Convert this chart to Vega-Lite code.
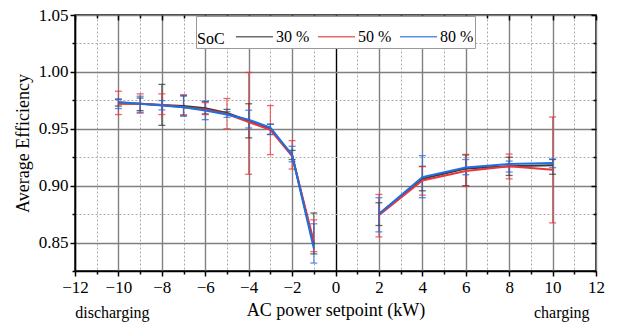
{
  "$schema": "https://vega.github.io/schema/vega-lite/v6.json",
  "width": 521,
  "height": 256,
  "autosize": "none",
  "padding": {"left": 75, "top": 15, "right": 22, "bottom": 53},
  "background": "white",
  "data": {"values": [
    {"p": -10, "soc": "30 %", "seg": "d", "eff": 0.9725, "lo": 0.970, "hi": 0.976},
    {"p": -9, "soc": "30 %", "seg": "d", "eff": 0.972, "lo": 0.966, "hi": 0.977},
    {"p": -8, "soc": "30 %", "seg": "d", "eff": 0.971, "lo": 0.953, "hi": 0.989},
    {"p": -7, "soc": "30 %", "seg": "d", "eff": 0.970, "lo": 0.962, "hi": 0.979},
    {"p": -6, "soc": "30 %", "seg": "d", "eff": 0.968, "lo": 0.963, "hi": 0.974},
    {"p": -5, "soc": "30 %", "seg": "d", "eff": 0.964, "lo": 0.963, "hi": 0.967},
    {"p": -4, "soc": "30 %", "seg": "d", "eff": 0.957, "lo": 0.942, "hi": 0.972},
    {"p": -3, "soc": "30 %", "seg": "d", "eff": 0.950, "lo": 0.945, "hi": 0.954},
    {"p": -2, "soc": "30 %", "seg": "d", "eff": 0.927, "lo": 0.923, "hi": 0.931},
    {"p": -1, "soc": "30 %", "seg": "d", "eff": 0.848, "lo": 0.840, "hi": 0.876},
    {"p": 2, "soc": "30 %", "seg": "c", "eff": 0.875, "lo": 0.865, "hi": 0.885},
    {"p": 4, "soc": "30 %", "seg": "c", "eff": 0.906, "lo": 0.8955, "hi": 0.917},
    {"p": 6, "soc": "30 %", "seg": "c", "eff": 0.915, "lo": 0.900, "hi": 0.927},
    {"p": 8, "soc": "30 %", "seg": "c", "eff": 0.917, "lo": 0.909, "hi": 0.925},
    {"p": 10, "soc": "30 %", "seg": "c", "eff": 0.918, "lo": 0.910, "hi": 0.923},
    {"p": -10, "soc": "50 %", "seg": "d", "eff": 0.972, "lo": 0.9625, "hi": 0.983},
    {"p": -9, "soc": "50 %", "seg": "d", "eff": 0.972, "lo": 0.9637, "hi": 0.9807},
    {"p": -8, "soc": "50 %", "seg": "d", "eff": 0.971, "lo": 0.9625, "hi": 0.9807},
    {"p": -7, "soc": "50 %", "seg": "d", "eff": 0.969, "lo": 0.962, "hi": 0.980},
    {"p": -6, "soc": "50 %", "seg": "d", "eff": 0.967, "lo": 0.9625, "hi": 0.973},
    {"p": -5, "soc": "50 %", "seg": "d", "eff": 0.963, "lo": 0.950, "hi": 0.9766},
    {"p": -4, "soc": "50 %", "seg": "d", "eff": 0.956, "lo": 0.910, "hi": 0.9995},
    {"p": -3, "soc": "50 %", "seg": "d", "eff": 0.949, "lo": 0.9273, "hi": 0.9704},
    {"p": -2, "soc": "50 %", "seg": "d", "eff": 0.926, "lo": 0.9146, "hi": 0.9396},
    {"p": -1, "soc": "50 %", "seg": "d", "eff": 0.851, "lo": 0.842, "hi": 0.870},
    {"p": 2, "soc": "50 %", "seg": "c", "eff": 0.874, "lo": 0.855, "hi": 0.8923},
    {"p": 4, "soc": "50 %", "seg": "c", "eff": 0.9046, "lo": 0.8917, "hi": 0.9167},
    {"p": 6, "soc": "50 %", "seg": "c", "eff": 0.9128, "lo": 0.8993, "hi": 0.9275},
    {"p": 8, "soc": "50 %", "seg": "c", "eff": 0.917, "lo": 0.906, "hi": 0.9278},
    {"p": 10, "soc": "50 %", "seg": "c", "eff": 0.914, "lo": 0.8673, "hi": 0.9604},
    {"p": -10, "soc": "80 %", "seg": "d", "eff": 0.9735, "lo": 0.9678, "hi": 0.976},
    {"p": -9, "soc": "80 %", "seg": "d", "eff": 0.972, "lo": 0.9645, "hi": 0.9786},
    {"p": -8, "soc": "80 %", "seg": "d", "eff": 0.9705, "lo": 0.9666, "hi": 0.9748},
    {"p": -7, "soc": "80 %", "seg": "d", "eff": 0.969, "lo": 0.961, "hi": 0.979},
    {"p": -6, "soc": "80 %", "seg": "d", "eff": 0.966, "lo": 0.958, "hi": 0.9742},
    {"p": -5, "soc": "80 %", "seg": "d", "eff": 0.9625, "lo": 0.960, "hi": 0.965},
    {"p": -4, "soc": "80 %", "seg": "d", "eff": 0.958, "lo": 0.9507, "hi": 0.9663},
    {"p": -3, "soc": "80 %", "seg": "d", "eff": 0.951, "lo": 0.945, "hi": 0.954},
    {"p": -2, "soc": "80 %", "seg": "d", "eff": 0.927, "lo": 0.921, "hi": 0.9346},
    {"p": -1, "soc": "80 %", "seg": "d", "eff": 0.845, "lo": 0.832, "hi": 0.8665},
    {"p": 2, "soc": "80 %", "seg": "c", "eff": 0.875, "lo": 0.8594, "hi": 0.8894},
    {"p": 4, "soc": "80 %", "seg": "c", "eff": 0.9075, "lo": 0.8894, "hi": 0.9264},
    {"p": 6, "soc": "80 %", "seg": "c", "eff": 0.916, "lo": 0.9096, "hi": 0.923},
    {"p": 8, "soc": "80 %", "seg": "c", "eff": 0.919, "lo": 0.912, "hi": 0.9216},
    {"p": 10, "soc": "80 %", "seg": "c", "eff": 0.920, "lo": 0.9158, "hi": 0.9234}
  ]},
  "config": {
    "font": "Liberation Serif, serif",
    "view": {"stroke": "black", "strokeWidth": 1.5},
    "axis": {
      "labelFont": "Liberation Serif, serif",
      "titleFont": "Liberation Serif, serif",
      "labelFontSize": 17,
      "titleFontSize": 18,
      "titleFontWeight": "normal",
      "labelColor": "black",
      "titleColor": "black",
      "domainColor": "black",
      "domainWidth": 1.5,
      "tickColor": "black",
      "tickWidth": 1.5
    },
    "legend": {
      "labelFont": "Liberation Serif, serif",
      "titleFont": "Liberation Serif, serif"
    }
  },
  "layer": [
    {
      "mark": {"type": "point", "opacity": 0},
      "encoding": {
        "x": {"field": "p", "type": "quantitative", "scale": {"domain": [-12, 12], "nice": false, "zero": false},
          "axis": {"orient": "top", "values": [-12,-11,-10,-9,-8,-7,-6,-5,-4,-3,-2,-1,0,1,2,3,4,5,6,7,8,9,10,11,12], "labels": false, "domain": false, "grid": false, "title": null,
            "tickSize": {"condition": {"test": "datum.value % 2 === 0", "value": -5}, "value": -3}}},
        "y": {"field": "eff", "type": "quantitative", "scale": {"domain": [0.825, 1.05], "nice": false, "zero": false},
          "axis": {"orient": "right", "values": [0.825,0.85,0.875,0.9,0.925,0.95,0.975,1.0,1.025,1.05], "labels": false, "domain": false, "grid": false, "title": null,
            "tickSize": {"condition": {"test": "abs(datum.value*20 - round(datum.value*20)) < 0.001", "value": -5}, "value": -3}}}
      }
    },
    {
      "mark": {"type": "point", "opacity": 0},
      "encoding": {
        "x": {"field": "p", "type": "quantitative", "scale": {"domain": [-12, 12], "nice": false, "zero": false},
          "axis": {"orient": "bottom", "values": [-10.3, 10.4], "labelExpr": "datum.value < 0 ? 'discharging' : 'charging'", "labelFont": "Liberation Serif, serif", "labelFontSize": 16, "labelPadding": 33, "ticks": false, "domain": false, "grid": false, "title": null}},
        "y": {"field": "eff", "type": "quantitative", "axis": null}
      }
    },
    {
      "mark": {"type": "rule", "strokeWidth": 1.2, "opacity": 0.75},
      "encoding": {
        "x": {"field": "p", "type": "quantitative", "axis": null},
        "y": {"field": "lo", "type": "quantitative", "axis": null},
        "y2": {"field": "hi"},
        "color": {"field": "soc", "type": "nominal"}
      }
    },
    {
      "mark": {"type": "tick", "orient": "horizontal", "size": 7, "thickness": 1.3, "opacity": 0.75},
      "encoding": {
        "x": {"field": "p", "type": "quantitative", "axis": null},
        "y": {"field": "lo", "type": "quantitative", "axis": null},
        "color": {"field": "soc", "type": "nominal"}
      }
    },
    {
      "mark": {"type": "tick", "orient": "horizontal", "size": 7, "thickness": 1.3, "opacity": 0.75},
      "encoding": {
        "x": {"field": "p", "type": "quantitative", "axis": null},
        "y": {"field": "hi", "type": "quantitative", "axis": null},
        "color": {"field": "soc", "type": "nominal"}
      }
    },
    {
      "mark": {"type": "line", "strokeWidth": 2},
      "encoding": {
        "x": {"field": "p", "type": "quantitative",
          "axis": {"orient": "bottom", "title": "AC power setpoint (kW)", "titlePadding": 6,
            "labelFont": "Liberation Serif, serif", "titleFont": "Liberation Serif, serif",
            "values": [-12,-11,-10,-9,-8,-7,-6,-5,-4,-3,-2,-1,0,1,2,3,4,5,6,7,8,9,10,11,12],
            "labelExpr": "datum.value % 2 === 0 ? format(datum.value, 'd') : ''",
            "labelPadding": 3,
            "tickSize": {"condition": {"test": "datum.value % 2 === 0", "value": 5}, "value": 3},
            "grid": true,
            "gridDash": {"condition": {"test": "datum.value % 2 === 0", "value": []}, "value": [2, 2]},
            "gridColor": {"condition": [{"test": "datum.value === 0", "value": "#000000"}, {"test": "datum.value % 2 === 0", "value": "#808080"}], "value": "#aaaaaa"},
            "gridWidth": {"condition": {"test": "datum.value % 2 === 0", "value": 1.4}, "value": 1},
            "labelFlush": false}},
        "y": {"field": "eff", "type": "quantitative",
          "axis": {"orient": "left", "title": "Average Efficiency", "titlePadding": 6,
            "labelFont": "Liberation Serif, serif", "titleFont": "Liberation Serif, serif",
            "values": [0.825,0.85,0.875,0.9,0.925,0.95,0.975,1.0,1.025,1.05],
            "labelExpr": "abs(datum.value*20 - round(datum.value*20)) < 0.001 ? format(datum.value, '.2f') : ''",
            "tickSize": {"condition": {"test": "abs(datum.value*20 - round(datum.value*20)) < 0.001", "value": 5}, "value": 3},
            "grid": true,
            "gridDash": {"condition": {"test": "abs(datum.value*20 - round(datum.value*20)) < 0.001", "value": []}, "value": [2, 2]},
            "gridColor": {"condition": {"test": "abs(datum.value*20 - round(datum.value*20)) < 0.001", "value": "#808080"}, "value": "#aaaaaa"},
            "gridWidth": {"condition": {"test": "abs(datum.value*20 - round(datum.value*20)) < 0.001", "value": 1.4}, "value": 1},
            "labelFlush": false}},
        "detail": {"field": "seg"},
        "color": {"field": "soc", "type": "nominal",
          "scale": {"domain": ["30 %", "50 %", "80 %"], "range": ["#3a3a3a", "#e8363c", "#1e6fe0"]},
          "legend": {"title": "SoC", "orient": "none", "legendX": 121, "legendY": 1, "direction": "horizontal",
            "titleOrient": "left", "titleAnchor": "middle", "titleBaseline": "top",
            "titleFont": "Liberation Serif, serif", "titleFontSize": 16, "titleFontWeight": "normal", "titleColor": "black", "titlePadding": 10,
            "labelFont": "Liberation Serif, serif", "labelFontSize": 16, "labelColor": "black", "labelOffset": 2,
            "symbolType": "stroke", "symbolSize": 1369, "symbolStrokeWidth": 1.5,
            "columnPadding": 5, "padding": 1, "fillColor": "white", "strokeColor": "#999999"}}
      }
    }
  ],
  "resolve": {"axis": {"x": "independent", "y": "independent"}}
}
